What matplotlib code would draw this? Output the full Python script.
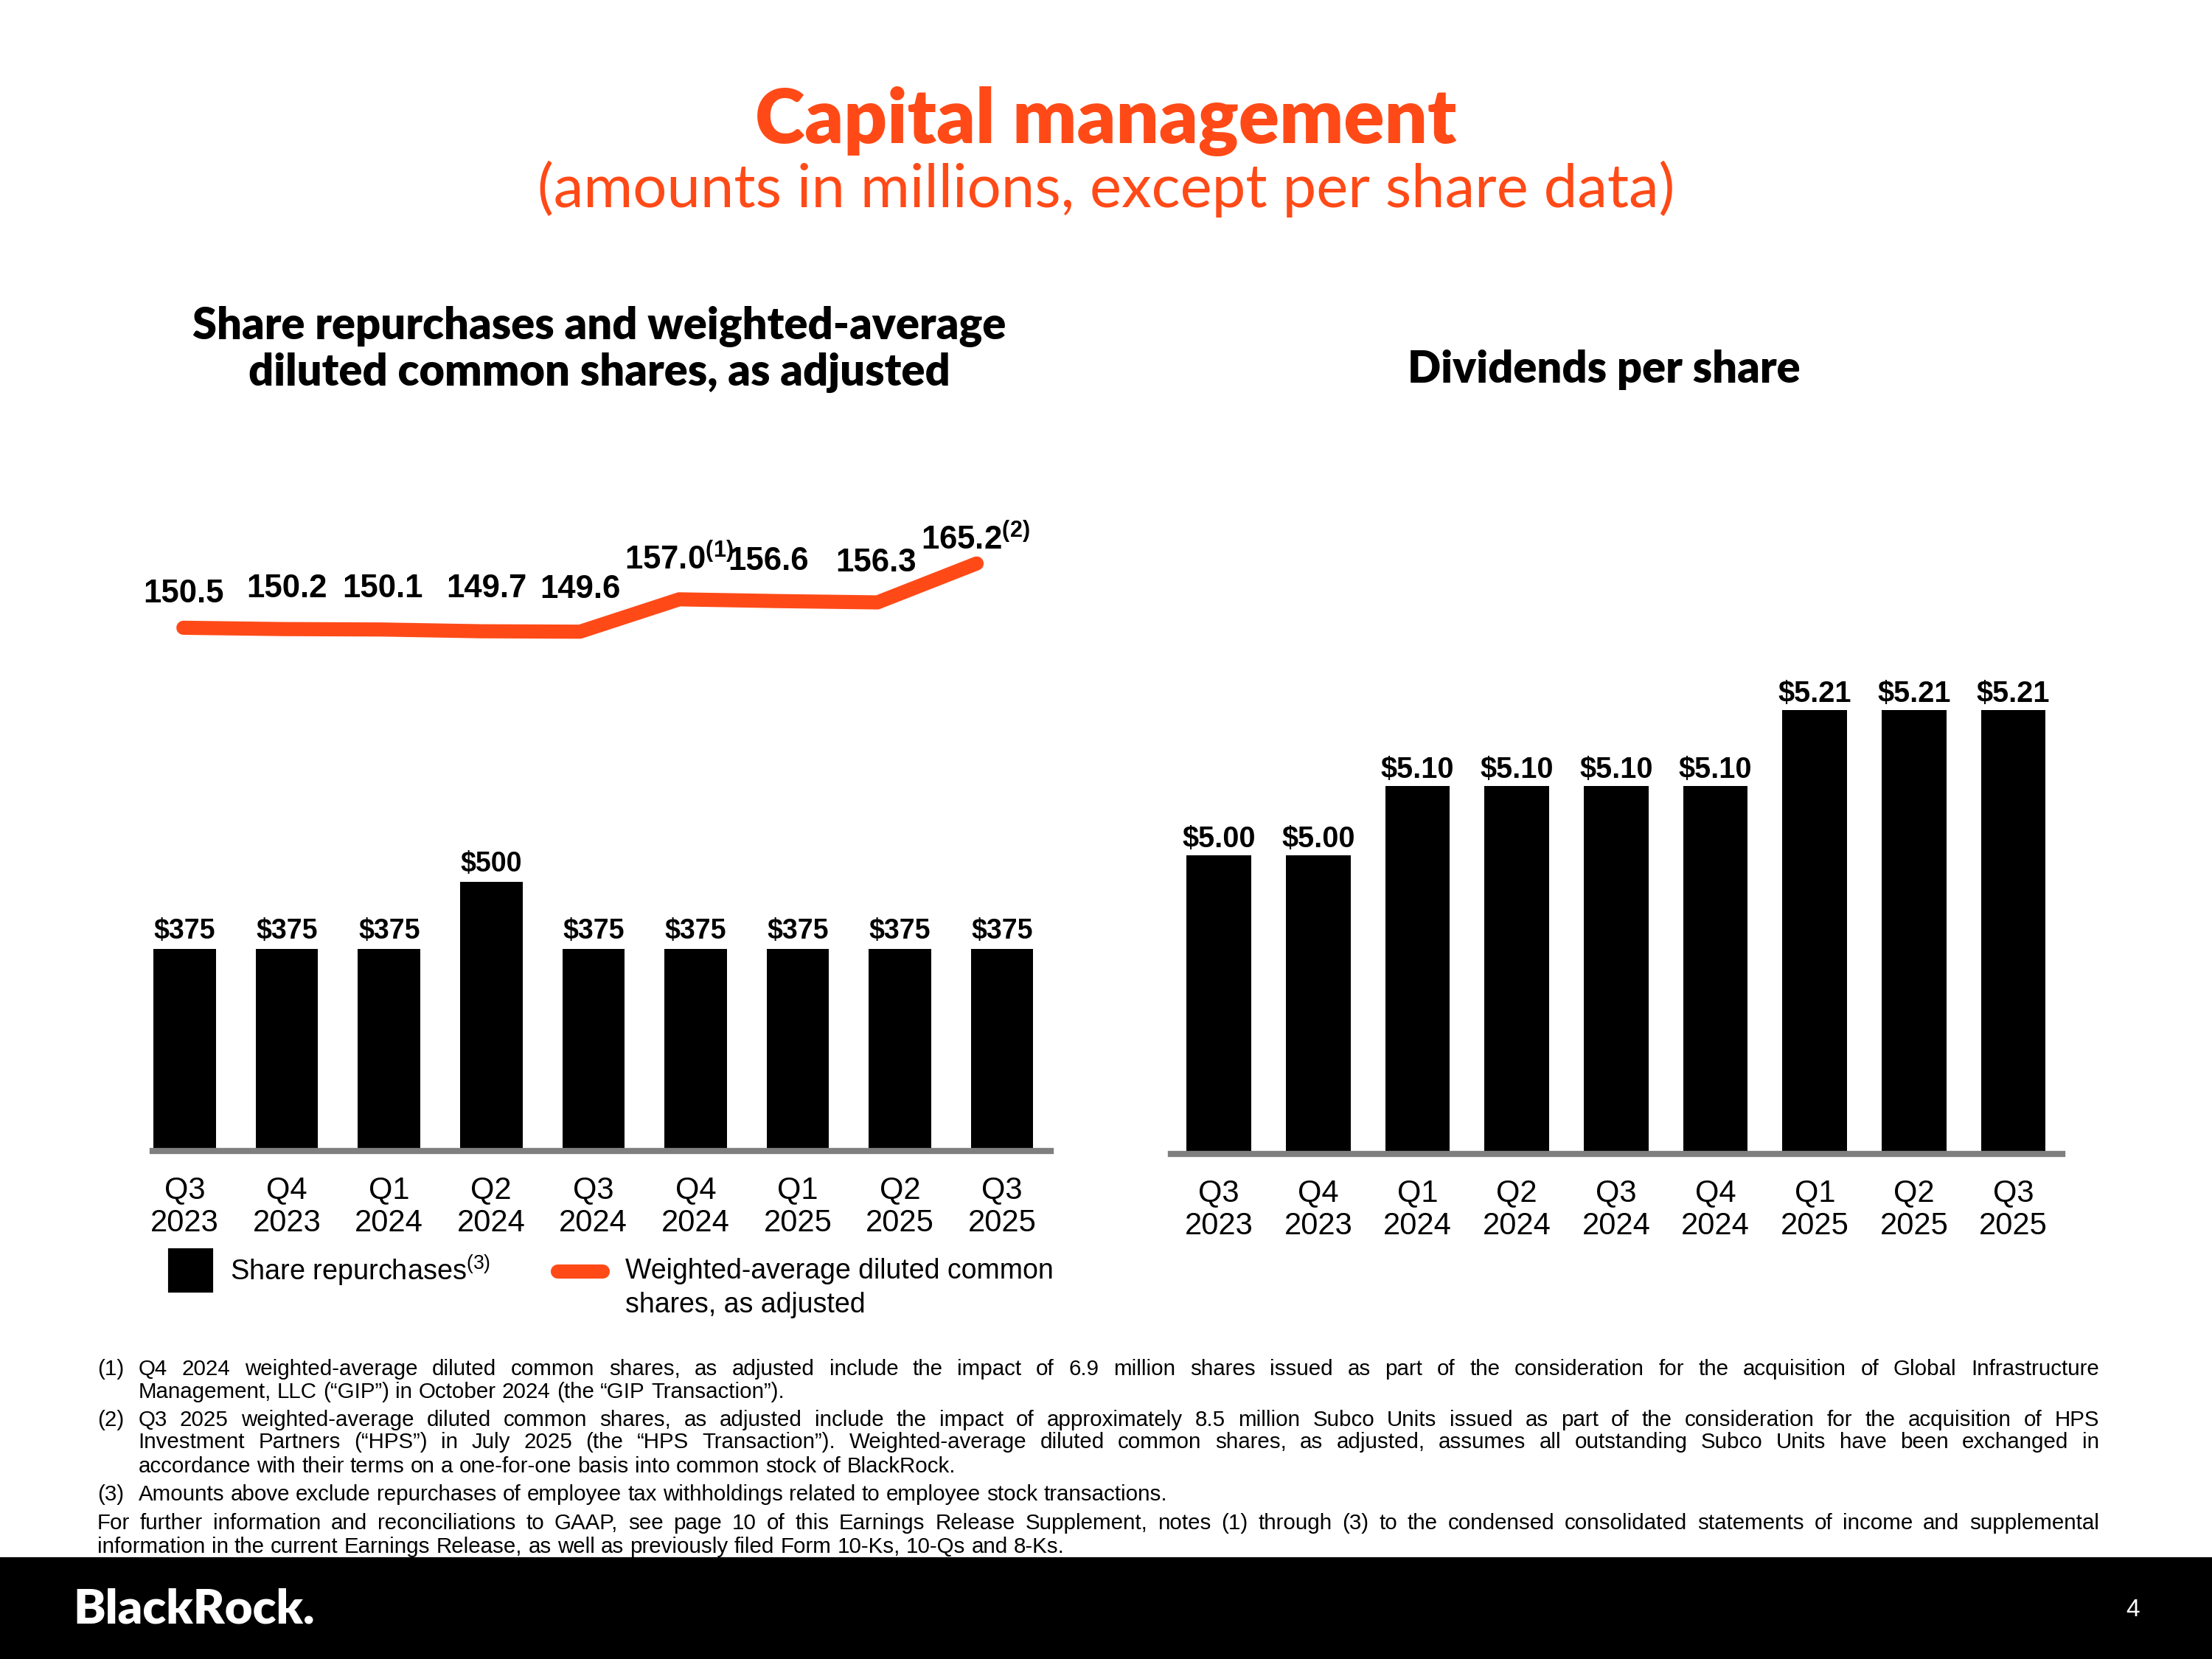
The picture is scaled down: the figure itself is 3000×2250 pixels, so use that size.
import numpy as np
import matplotlib
matplotlib.use("Agg")
import matplotlib.pyplot as plt
from matplotlib.patches import Rectangle
from matplotlib.lines import Line2D

# ---------------- data ----------------
quarters = ["Q3\n2023", "Q4\n2023", "Q1\n2024", "Q2\n2024", "Q3\n2024",
            "Q4\n2024", "Q1\n2025", "Q2\n2025", "Q3\n2025"]
repurchases = [375, 375, 375, 500, 375, 375, 375, 375, 375]
diluted_shares = [150.5, 150.2, 150.1, 149.7, 149.6, 157.0, 156.6, 156.3, 165.2]
share_notes = ["", "", "", "", "", "(1)", "", "", "(2)"]
dividends = [5.00, 5.00, 5.10, 5.10, 5.10, 5.10, 5.21, 5.21, 5.21]

title = "Capital management"
subtitle = "(amounts in millions, except per share data)"
left_title = ["Share repurchases and weighted-average",
              "diluted common shares, as adjusted"]
right_title = "Dividends per share"
legend_bar = "Share repurchases"
legend_line = ["Weighted-average diluted common", "shares, as adjusted"]

footnotes = [
    ("(1)", ["Q4 2024 weighted-average diluted common shares, as adjusted include the impact of 6.9 million shares issued as part of the consideration for the acquisition of Global Infrastructure",
             "Management, LLC (\u201cGIP\u201d) in October 2024 (the \u201cGIP Transaction\u201d)."]),
    ("(2)", ["Q3 2025 weighted-average diluted common shares, as adjusted include the impact of approximately 8.5 million Subco Units issued as part of the consideration for the acquisition of HPS",
             "Investment Partners (\u201cHPS\u201d) in July 2025 (the \u201cHPS Transaction\u201d). Weighted-average diluted common shares, as adjusted, assumes all outstanding Subco Units have been exchanged in",
             "accordance with their terms on a one-for-one basis into common stock of BlackRock."]),
    ("(3)", ["Amounts above exclude repurchases of employee tax withholdings related to employee stock transactions."]),
    ("", ["For further information and reconciliations to GAAP, see page 10 of this Earnings Release Supplement, notes (1) through (3) to the condensed consolidated statements of income and supplemental",
          "information in the current Earnings Release, as well as previously filed Form 10-Ks, 10-Qs and 8-Ks."]),
]

# ---------------- style ----------------
ORANGE = "#FF4A17"
GREY = "#7f7f7f"
BODY = "Liberation Sans"
HEAD = "Lato"
plt.rcParams["font.family"] = [BODY, "DejaVu Sans"]
plt.rcParams["mathtext.fontset"] = "custom"
plt.rcParams["mathtext.rm"] = "Liberation Sans"
plt.rcParams["mathtext.it"] = "Liberation Sans:italic"
plt.rcParams["mathtext.bf"] = "Liberation Sans:bold"

W, H = 1568.0, 1176.0
OUTW = 3000.0


def fx(px):
    return px / W


def fy(py):
    return 1 - py / H


fig = plt.figure(figsize=(10, 7.5), dpi=300)
renderer = fig.canvas.get_renderer()


def fit(t, target):
    w = t.get_window_extent(renderer).width
    t.set_fontsize(t.get_fontsize() * target * OUTW / W / w)


# ---------------- headings ----------------
t = fig.text(0.5, fy(86), title, ha="center", va="center", color=ORANGE,
             family=HEAD, fontweight="heavy", fontsize=20)
fit(t, 498)
t = fig.text(0.5, fy(134), subtitle, ha="center", va="center", color=ORANGE,
             family=HEAD, fontsize=15)
fit(t, 808)
t1 = fig.text(fx(425), fy(231), left_title[0], ha="center", va="center",
              family=HEAD, fontweight="heavy", fontsize=13)
fit(t1, 576)
fig.text(fx(425), fy(264), left_title[1], ha="center", va="center",
         family=HEAD, fontweight="heavy", fontsize=t1.get_fontsize())
fig.text(fx(1137), fy(262), right_title, ha="center", va="center",
         family=HEAD, fontweight="heavy", fontsize=t1.get_fontsize())

x = np.arange(len(quarters))

# ---------------- left chart ----------------
axL = fig.add_axes([fx(108), fy(816), fx(745) - fx(108), fy(330) - fy(816)])
bars = axL.bar(x, repurchases, width=0.61, color="black", zorder=2)
axL.set_xlim(-0.318, 8.48)
axL.set_ylim(0, 1272)
axL.bar_label(bars, labels=[f"${v}" for v in repurchases], padding=1.4,
              fontsize=9, fontweight="bold")
for s in ["top", "right", "left"]:
    axL.spines[s].set_visible(False)
axL.spines["bottom"].set_color(GREY)
axL.spines["bottom"].set_linewidth(2)
axL.spines["bottom"].set_zorder(3)
axL.set_yticks([])
axL.set_xticks(x, quarters)
axL.tick_params(axis="x", length=0, pad=8, labelsize=10)
for lbl in axL.get_xticklabels():
    lbl.set_linespacing(1.15)
axL.patch.set_visible(False)

# line overlay
axS = fig.add_axes([fx(108), fy(816), fx(745) - fx(108), fy(330) - fy(816)])
axS.set_axis_off()
axS.patch.set_visible(False)
axS.set_xlim(-0.313, 8.75)
axS.set_ylim(30.8, 187.6)
axS.plot(x, diluted_shares, color=ORANGE, lw=4.6, solid_capstyle="round",
         solid_joinstyle="round")
label_dy = [11, 13.2, 13.3, 13.8, 13.7, 12.9, 12.9, 12.9, 7.8]
label_dx = [0, 1.4, 0.2, 1.8, 0, 0, -3.2, -0.5, -0.5]
for i, (v, n) in enumerate(zip(diluted_shares, share_notes)):
    if n:
        s = rf"$\mathbf{{{v:.1f}}}^{{\mathbf{{{n}}}}}$"
    else:
        s = f"{v:.1f}"
    axS.annotate(s, (i, v), xytext=(label_dx[i], label_dy[i]),
                 textcoords="offset points", ha="center", va="center",
                 fontsize=10.5, fontweight="bold")

# legend
fig.add_artist(Rectangle((fx(120), fy(915)), fx(150) - fx(120), fy(886) - fy(915),
                         transform=fig.transFigure, color="black"))
fig.text(fx(163), fy(901), legend_bar + r"$^{\mathrm{(3)}}$", ha="left", va="center",
         fontsize=9.1)
fig.add_artist(Line2D([fx(395), fx(427)], [fy(901), fy(901)], transform=fig.transFigure,
                      color=ORANGE, lw=4.6, solid_capstyle="round"))
fig.text(fx(443), fy(901), legend_line[0], ha="left", va="center", fontsize=9.0)
fig.text(fx(443), fy(925), legend_line[1], ha="left", va="center", fontsize=9.0)

# ---------------- right chart ----------------
axR = fig.add_axes([fx(830), fy(818), fx(1462) - fx(830), fy(330) - fy(818)])
bars = axR.bar(x, dividends, width=0.65, color="black", zorder=2)
axR.set_xlim(-0.483, 8.494)
axR.set_ylim(4.568, 5.563)
axR.bar_label(bars, labels=[f"${v:.2f}" for v in dividends], padding=0.6,
              fontsize=9.5, fontweight="bold")
for s in ["top", "right", "left"]:
    axR.spines[s].set_visible(False)
axR.spines["bottom"].set_color(GREY)
axR.spines["bottom"].set_linewidth(2)
axR.spines["bottom"].set_zorder(3)
axR.set_yticks([])
axR.set_xticks(x, quarters)
axR.tick_params(axis="x", length=0, pad=8, labelsize=10)
for lbl in axR.get_xticklabels():
    lbl.set_linespacing(1.15)
axR.patch.set_visible(False)

# ---------------- footnotes ----------------
FS = 7.1
sp_a = fig.text(0, 0, "a a", fontsize=FS)
sp_b = fig.text(0, 0, "aa", fontsize=FS)
SPACE = sp_a.get_window_extent(renderer).width - sp_b.get_window_extent(renderer).width
sp_a.remove()
sp_b.remove()


def place_line(line, x0, x1, y, justify):
    words = line.split(" ")
    texts = [fig.text(0, fy(y), w, fontsize=FS, ha="left", va="center_baseline")
             for w in words]
    widths = [t.get_window_extent(renderer).width for t in texts]
    x0p = x0 * OUTW / W
    x1p = x1 * OUTW / W
    gap = SPACE
    if justify and len(words) > 1:
        gap = max((x1p - x0p - sum(widths)) / (len(words) - 1), SPACE * 0.6)
    pos = x0p
    for t, w in zip(texts, widths):
        t.set_x(pos / OUTW)
        pos += w + gap


line_y = [[969, 985], [1005, 1021, 1038], [1058], [1078, 1095]]
for (num, lines), ys in zip(footnotes, line_y):
    x0 = 98 if num else 69
    if num:
        fig.text(fx(69), fy(ys[0]), num, fontsize=FS, ha="left", va="center_baseline")
    for k, (ln, yy) in enumerate(zip(lines, ys)):
        place_line(ln, x0, 1488, yy, justify=(k < len(lines) - 1))

# ---------------- footer banner ----------------
fig.add_artist(Rectangle((0, 0), 1, fy(1105), transform=fig.transFigure,
                         color="black", zorder=0))
t = fig.text(fx(52), fy(1141), "BlackRock.", ha="left", va="center", color="white",
             family=HEAD, fontweight="heavy", fontsize=14)
fit(t, 172)
fig.text(fx(1512), fy(1141), "4", ha="center", va="center", color="white", fontsize=8)

fig.savefig("out.png", dpi=300, facecolor="white")
